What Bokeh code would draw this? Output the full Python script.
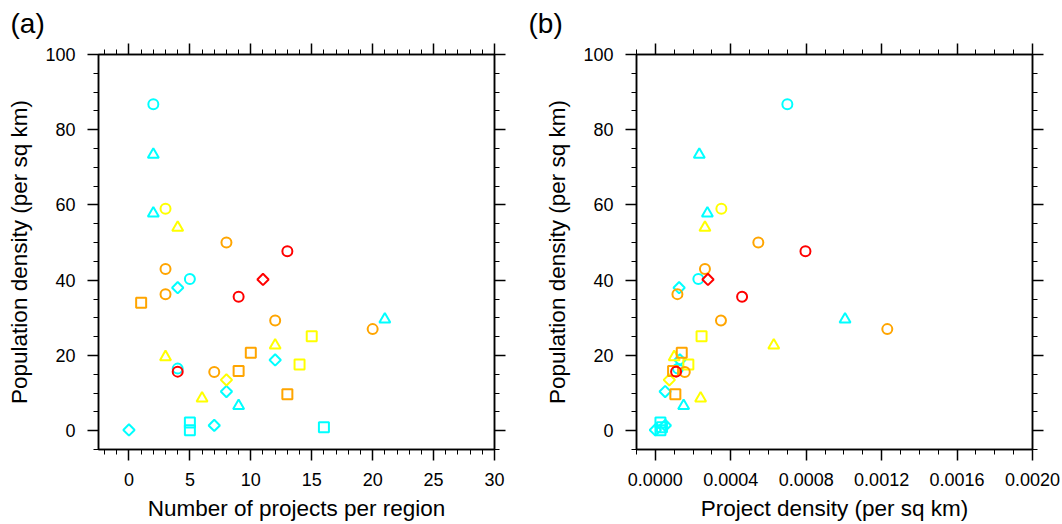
import math
import numpy as np
from bokeh.plotting import figure
from bokeh.models import (ColumnDataSource, LinearAxis, SingleIntervalTicker,
                          Range1d, PrintfTickFormatter, BasicTickFormatter)
from bokeh.layouts import row
from bokeh.embed import file_html
from bokeh.resources import INLINE

# ---------------- data ----------------
group_color = ["cyan", "cyan", "cyan",
               "cyan", "cyan", "cyan", "cyan",
               "cyan", "cyan", "cyan", "cyan", "cyan",
               "cyan", "cyan", "cyan",
               "yellow",
               "yellow", "yellow", "yellow", "yellow",
               "yellow",
               "yellow", "yellow",
               "orange", "orange", "orange", "orange", "orange", "orange",
               "orange", "orange", "orange", "orange",
               "red", "red", "red",
               "red"]
group_marker = ["circle", "circle", "circle",
                "triangle", "triangle", "triangle", "triangle",
                "diamond", "diamond", "diamond", "diamond", "diamond",
                "square", "square", "square",
                "circle",
                "triangle", "triangle", "triangle", "triangle",
                "diamond",
                "square", "square",
                "circle", "circle", "circle", "circle", "circle", "circle",
                "square", "square", "square", "square",
                "circle", "circle", "circle",
                "diamond"]
projects_per_region = [2, 5, 4,
                       2, 2, 21, 9,
                       4, 12, 8, 7, 0,
                       5, 5, 16,
                       3,
                       4, 12, 3, 6,
                       8,
                       15, 14,
                       8, 3, 3, 12, 20, 7,
                       1, 10, 9, 13,
                       13, 9, 4,
                       11]
project_density = [0.000700, 0.000228, 0.000120,
                   0.000233, 0.000276, 0.001006, 0.000150,
                   0.000126, 0.000130, 0.000052, 0.000053, 0.000000,
                   0.000027, 0.000027, 0.000035,
                   0.000350,
                   0.000263, 0.000628, 0.000100, 0.000240,
                   0.000074,
                   0.000245, 0.000175,
                   0.000546, 0.000263, 0.000117, 0.000348, 0.001230, 0.000156,
                   float("nan"), 0.000140, 0.000094, 0.000106,
                   0.000796, 0.000460, 0.000110,
                   0.000279]
population_density = [86.8, 40.3, 16.5,
                      73.4, 57.8, 29.6, 6.6,
                      38.0, 18.8, 10.4, 1.4, 0.2,
                      2.2, 0.1, 0.9,
                      59.0,
                      54.0, 22.7, 19.6, 8.6,
                      13.5,
                      25.1, 17.6,
                      50.0, 43.0, 36.3, 29.3, 27.0, 15.6,
                      34.0, 20.7, 15.9, 9.7,
                      47.7, 35.6, 15.7,
                      40.2]

panel_labels = ["(a)", "(b)"]
x_titles = ["Number of projects per region", "Project density (per sq km)"]
y_title = "Population density (per sq km)"

# ---------------- styles ----------------
FONT = "Liberation Sans"
COLOR_MAP = {"cyan": "#00FFFF", "yellow": "#FFFF00", "orange": "#FFA500", "red": "#FF0000"}
MARKER_MAP = {"circle": ("circle", 10, 0.0),
              "triangle": ("triangle", 11, 0.0),
              "diamond": ("square", 8, math.pi / 4),
              "square": ("square", 10, 0.0)}

FRAME_W = 396
FRAME_H = 396
TOP = 53
HEIGHT = 524


def style_axis(ax, labelled=True, horizontal=True):
    ax.axis_line_color = "black"
    ax.axis_line_width = 1.5
    ax.major_tick_line_color = "black"
    ax.major_tick_line_width = 1.5
    ax.minor_tick_line_color = "black"
    ax.minor_tick_line_width = 1
    ax.major_tick_out = 11
    ax.major_tick_in = 0
    ax.minor_tick_out = 5
    ax.minor_tick_in = 0
    ax.major_label_text_font = FONT
    ax.major_label_text_font_size = "18px"
    ax.major_label_text_color = "black"
    ax.major_label_standoff = 12
    ax.axis_label_text_font = FONT
    ax.axis_label_text_font_size = "22.5px"
    ax.axis_label_text_font_style = "normal"
    ax.axis_label_text_color = "black"
    ax.axis_label_standoff = 7 if horizontal else 10
    if not labelled:
        ax.major_label_text_color = None
        ax.major_label_standoff = 0


def make_panel(xvals, xrange, xinterval, xminor, xfmt, xtitle, plabel,
               border_left, border_right):
    width = border_left + FRAME_W + border_right
    p = figure(width=width, height=HEIGHT, output_backend="svg",
               toolbar_location=None, x_axis_location=None, y_axis_location=None,
               x_range=Range1d(*xrange), y_range=Range1d(-5, 100),
               min_border_left=border_left, min_border_right=border_right,
               min_border_top=TOP, min_border_bottom=HEIGHT - TOP - FRAME_H)
    p.grid.visible = False
    p.outline_line_color = "black"
    p.outline_line_width = 1.5
    p.background_fill_color = "white"
    p.border_fill_color = "white"

    p.title.text = plabel
    p.title.align = "left"
    p.title.offset = -(border_left - 10)
    p.title.text_font = FONT
    p.title.text_font_size = "28px"
    p.title.text_font_style = "normal"
    p.title.text_color = "black"

    for loc, labelled in (("below", True), ("above", False)):
        ax = LinearAxis(ticker=SingleIntervalTicker(interval=xinterval, num_minor_ticks=xminor),
                        formatter=xfmt() if labelled else BasicTickFormatter())
        style_axis(ax, labelled, True)
        if labelled:
            ax.axis_label = xtitle
        p.add_layout(ax, loc)
    for loc, labelled in (("left", True), ("right", False)):
        ax = LinearAxis(ticker=SingleIntervalTicker(interval=20, num_minor_ticks=4))
        style_axis(ax, labelled, False)
        if labelled:
            ax.axis_label = y_title
        p.add_layout(ax, loc)

    src = ColumnDataSource(dict(
        x=np.array(xvals, dtype=float),
        y=np.array(population_density, dtype=float),
        color=[COLOR_MAP[c] for c in group_color],
        marker=[MARKER_MAP[m][0] for m in group_marker],
        size=[MARKER_MAP[m][1] for m in group_marker],
        angle=[MARKER_MAP[m][2] for m in group_marker],
    ))
    p.scatter(x="x", y="y", marker="marker", size="size", angle="angle",
              line_color="color", fill_color=None, line_width=2, source=src)
    return p


pa = make_panel(projects_per_region, (-2.5, 30), 5, 5,
                lambda: BasicTickFormatter(), x_titles[0], panel_labels[0], 98, 24)
pb = make_panel(project_density, (-0.0001, 0.0020), 0.0004, 4,
                lambda: PrintfTickFormatter(format="%.4f"), x_titles[1], panel_labels[1], 118, 30)

layout = row(pa, pb)
open("out.html", "w").write(file_html(layout, INLINE))
